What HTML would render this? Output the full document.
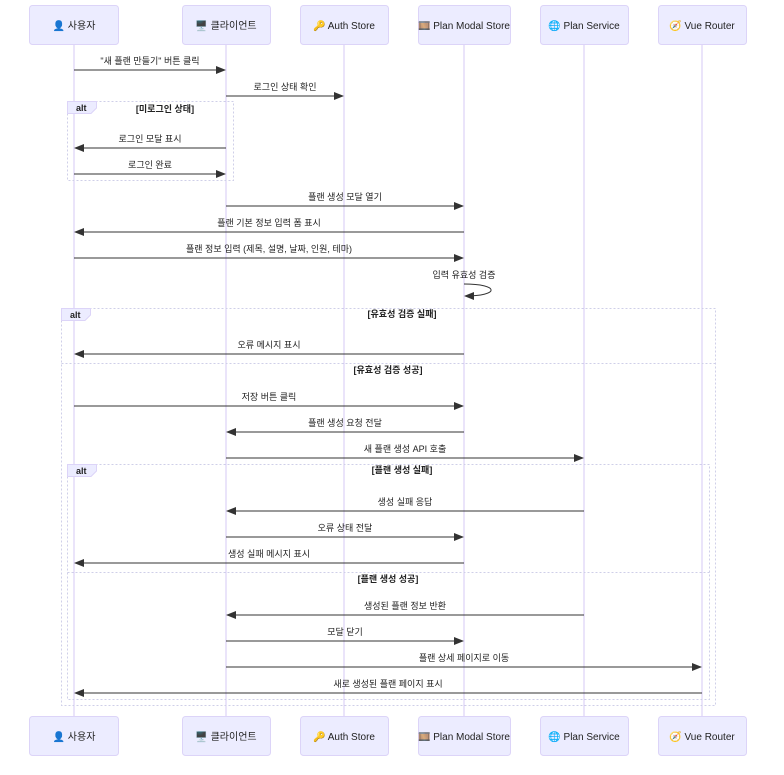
<!DOCTYPE html>
<html><head><meta charset="utf-8"><style>
html,body{margin:0;padding:0;background:#fff;}
svg text{font-family:"Liberation Sans","Noto Sans CJK KR",sans-serif;}
</style></head><body>
<svg width="784" height="770" viewBox="0 0 784 770" xmlns="http://www.w3.org/2000/svg">
<defs>
<marker id="ah" markerWidth="10" markerHeight="8" refX="9" refY="4" orient="auto" markerUnits="userSpaceOnUse">
<path d="M0,0 L10,4 L0,8 z" fill="#333"/></marker>
</defs>
<g stroke="#d4c8f5" stroke-width="1">
<line x1="74" y1="44" x2="74" y2="716"/>
<line x1="226" y1="44" x2="226" y2="716"/>
<line x1="344" y1="44" x2="344" y2="716"/>
<line x1="464" y1="44" x2="464" y2="716"/>
<line x1="584" y1="44" x2="584" y2="716"/>
<line x1="702" y1="44" x2="702" y2="716"/>
</g>
<g fill="#ececff" stroke="#dcd4f8" stroke-width="1">
<rect x="29.5" y="5.5" width="89" height="39" rx="3"/>
<rect x="182.5" y="5.5" width="88" height="39" rx="3"/>
<rect x="300.5" y="5.5" width="88" height="39" rx="3"/>
<rect x="418.5" y="5.5" width="92" height="39" rx="3"/>
<rect x="540.5" y="5.5" width="88" height="39" rx="3"/>
<rect x="658.5" y="5.5" width="88" height="39" rx="3"/>
<rect x="29.5" y="716.5" width="89" height="39" rx="3"/>
<rect x="182.5" y="716.5" width="88" height="39" rx="3"/>
<rect x="300.5" y="716.5" width="88" height="39" rx="3"/>
<rect x="418.5" y="716.5" width="92" height="39" rx="3"/>
<rect x="540.5" y="716.5" width="88" height="39" rx="3"/>
<rect x="658.5" y="716.5" width="88" height="39" rx="3"/>
</g>
<g font-size="10" fill="#222" text-anchor="middle">
<text x="74" y="29">👤 사용자</text>
<text x="226" y="29">🖥️ 클라이언트</text>
<text x="344" y="29">🔑 Auth Store</text>
<text x="464" y="29">🎞️ Plan Modal Store</text>
<text x="584" y="29">🌐 Plan Service</text>
<text x="702" y="29">🧭 Vue Router</text>
<text x="74" y="740">👤 사용자</text>
<text x="226" y="740">🖥️ 클라이언트</text>
<text x="344" y="740">🔑 Auth Store</text>
<text x="464" y="740">🎞️ Plan Modal Store</text>
<text x="584" y="740">🌐 Plan Service</text>
<text x="702" y="740">🧭 Vue Router</text>
</g>
<!-- alt frames -->
<g fill="none" stroke="#cfcfe8" stroke-width="1" stroke-dasharray="2,2">
<rect x="67.5" y="101.5" width="166" height="79"/>
<rect x="61.5" y="308.5" width="654" height="397"/>
<line x1="61.5" y1="363.5" x2="715.5" y2="363.5"/>
<rect x="67.5" y="464.5" width="642" height="235"/>
<line x1="67.5" y1="572.5" x2="709.5" y2="572.5"/>
</g>
<g fill="#ececff" stroke="#dcd4f8">
<path d="M67.5,101.5 H96.5 V108 L91,113.5 H67.5 Z"/>
<path d="M61.5,308.5 H90.5 V315 L85,320.5 H61.5 Z"/>
<path d="M67.5,464.5 H96.5 V471 L91,476.5 H67.5 Z"/>
</g>
<g font-size="9" fill="#222" font-weight="bold">
<text x="76" y="111">alt</text>
<text x="70" y="318">alt</text>
<text x="76" y="474">alt</text>
</g>
<g font-size="9" fill="#222" font-weight="bold" text-anchor="middle">
<text x="165" y="112">[미로그인 상태]</text>
<text x="402" y="317">[유효성 검증 실패]</text>
<text x="388" y="373">[유효성 검증 성공]</text>
<text x="402" y="473">[플랜 생성 실패]</text>
<text x="388" y="582">[플랜 생성 성공]</text>
</g>
<!-- messages -->
<g stroke="#333" stroke-width="1" marker-end="url(#ah)">
<line x1="74" y1="70" x2="225" y2="70"/>
<line x1="226" y1="96" x2="343" y2="96"/>
<line x1="226" y1="148" x2="75" y2="148"/>
<line x1="74" y1="174" x2="225" y2="174"/>
<line x1="226" y1="206" x2="463" y2="206"/>
<line x1="464" y1="232" x2="75" y2="232"/>
<line x1="74" y1="258" x2="463" y2="258"/>
<path d="M464,284 C500,284 500,296 465,296" fill="none"/>
<line x1="464" y1="354" x2="75" y2="354"/>
<line x1="74" y1="406" x2="463" y2="406"/>
<line x1="464" y1="432" x2="227" y2="432"/>
<line x1="226" y1="458" x2="583" y2="458"/>
<line x1="584" y1="511" x2="227" y2="511"/>
<line x1="226" y1="537" x2="463" y2="537"/>
<line x1="464" y1="563" x2="75" y2="563"/>
<line x1="584" y1="615" x2="227" y2="615"/>
<line x1="226" y1="641" x2="463" y2="641"/>
<line x1="226" y1="667" x2="701" y2="667"/>
<line x1="702" y1="693" x2="75" y2="693"/>
</g>
<g font-size="9" fill="#222" text-anchor="middle">
<text x="150" y="64">"새 플랜 만들기" 버튼 클릭</text>
<text x="285" y="90">로그인 상태 확인</text>
<text x="150" y="142">로그인 모달 표시</text>
<text x="150" y="168">로그인 완료</text>
<text x="345" y="200">플랜 생성 모달 열기</text>
<text x="269" y="226">플랜 기본 정보 입력 폼 표시</text>
<text x="269" y="252">플랜 정보 입력 (제목, 설명, 날짜, 인원, 테마)</text>
<text x="464" y="278">입력 유효성 검증</text>
<text x="269" y="348">오류 메시지 표시</text>
<text x="269" y="400">저장 버튼 클릭</text>
<text x="345" y="426">플랜 생성 요청 전달</text>
<text x="405" y="452">새 플랜 생성 API 호출</text>
<text x="405" y="505">생성 실패 응답</text>
<text x="345" y="531">오류 상태 전달</text>
<text x="269" y="557">생성 실패 메시지 표시</text>
<text x="405" y="609">생성된 플랜 정보 반환</text>
<text x="345" y="635">모달 닫기</text>
<text x="464" y="661">플랜 상세 페이지로 이동</text>
<text x="388" y="687">새로 생성된 플랜 페이지 표시</text>
</g>
</svg>
</body></html>
